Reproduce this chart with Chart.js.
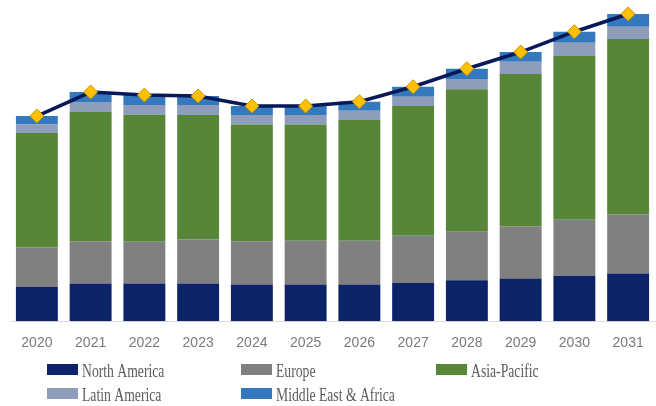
<!DOCTYPE html>
<html>
<head>
<meta charset="utf-8">
<script src="https://cdn.jsdelivr.net/npm/chart.js@4/dist/chart.umd.min.js"></script>
<style>
  html, body { margin: 0; padding: 0; background: #fff; }
  #wrap { width: 656px; height: 406px; }
</style>
</head>
<body>
<div id="wrap"><canvas id="myChart" width="656" height="406"></canvas></div>
<script>
var years = ['2020', '2021', '2022', '2023', '2024', '2025', '2026', '2027', '2028', '2029', '2030', '2031'];

var northAmerica = [3.43, 3.77, 3.77, 3.77, 3.67, 3.67, 3.67, 3.83, 4.10, 4.27, 4.53, 4.77];
var europe       = [3.97, 4.23, 4.16, 4.40, 4.33, 4.36, 4.36, 4.70, 4.83, 5.23, 5.60, 5.90];
var asiaPacific  = [11.40, 12.90, 12.70, 12.43, 11.67, 11.64, 12.07, 12.97, 14.24, 15.20, 16.37, 17.53];
var latinAmerica = [0.85, 1.00, 0.97, 1.00, 0.93, 0.93, 0.93, 0.93, 1.03, 1.23, 1.33, 1.23];
var middleEast   = [0.85, 1.00, 1.00, 0.90, 0.90, 0.90, 0.90, 1.00, 1.03, 0.97, 1.10, 1.27];
var totals       = [20.50, 22.90, 22.60, 22.50, 21.50, 21.50, 21.93, 23.43, 25.23, 26.90, 28.93, 30.70];

// legend boxes: [x, y] of each swatch, 3 columns x 2 rows
var legendSlots = [[47, 364], [241, 364], [436, 364], [47, 388], [241, 388]];

var customLegend = {
    id: 'customLegend',
    afterDraw: function (chart) {
        var ctx = chart.ctx;
        var bars = chart.data.datasets.filter(function (d) { return d.type === 'bar'; });
        ctx.save();
        ctx.font = '19px "Liberation Serif", "Times New Roman", serif';
        ctx.textBaseline = 'alphabetic';
        bars.forEach(function (ds, i) {
            var p = legendSlots[i];
            ctx.fillStyle = ds.backgroundColor;
            ctx.fillRect(p[0], p[1], 31, 11);
            ctx.save();
            ctx.translate(p[0] + 35, p[1] + 12.5);
            ctx.scale(0.72, 1);
            ctx.fillStyle = '#5c5c5c';
            ctx.fillText(ds.label, 0, 0);
            ctx.restore();
        });
        ctx.restore();
    }
};

var ctx = document.getElementById('myChart').getContext('2d');
var myChart = new Chart(ctx, {
    data: {
        labels: years,
        datasets: [
            {
                type: 'line',
                label: 'Total',
                data: totals,
                stack: 'total',
                order: 0,
                borderColor: '#08195a',
                borderWidth: 3.5,
                tension: 0,
                pointStyle: 'rectRot',
                pointRadius: 7,
                pointBackgroundColor: '#ffc000',
                pointBorderColor: '#c89200',
                pointBorderWidth: 1,
                clip: false
            },
            { type: 'bar', label: 'North America', data: northAmerica, backgroundColor: '#0c2367', order: 1 },
            { type: 'bar', label: 'Europe', data: europe, backgroundColor: '#808080', order: 1 },
            { type: 'bar', label: 'Asia-Pacific', data: asiaPacific, backgroundColor: '#578638', order: 1 },
            { type: 'bar', label: 'Latin America', data: latinAmerica, backgroundColor: '#8d9dbb', order: 1 },
            { type: 'bar', label: 'Middle East & Africa', data: middleEast, backgroundColor: '#3479bd', order: 1 }
        ]
    },
    options: {
        responsive: false,
        animation: false,
        datasets: {
            bar: { categoryPercentage: 1, barPercentage: 0.78 }
        },
        layout: { autoPadding: false, padding: { top: 1, left: 10, right: 1, bottom: 48 } },
        plugins: {
            legend: { display: false },
            tooltip: { enabled: false }
        },
        scales: {
            x: {
                stacked: true,
                grid: { display: false },
                border: { display: true, color: '#dcdcdc', width: 1 },
                ticks: {
                    color: '#7a7a7a',
                    padding: 6,
                    maxRotation: 0,
                    font: { family: '"Liberation Sans", Arial, sans-serif', size: 14 }
                }
            },
            y: {
                display: false,
                stacked: true,
                min: 0,
                max: 32
            }
        }
    },
    plugins: [customLegend]
});
</script>
</body>
</html>
